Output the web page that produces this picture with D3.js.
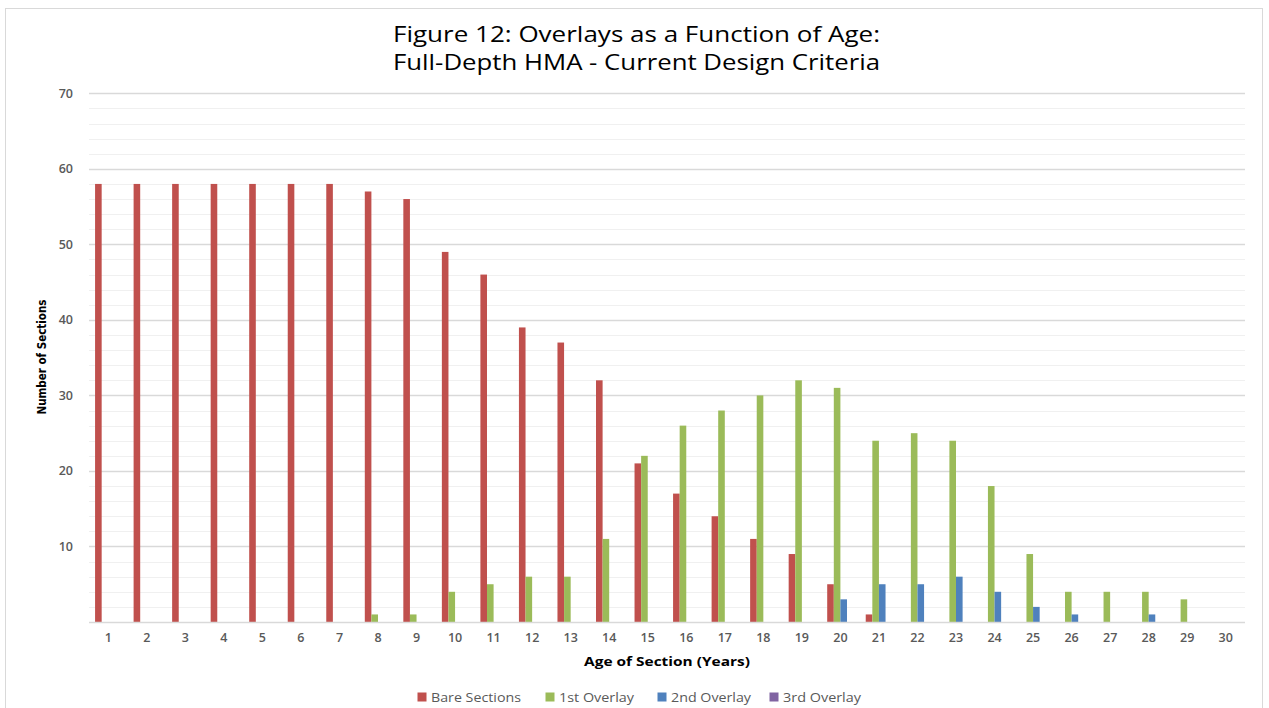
<!DOCTYPE html>
<html><head><meta charset="utf-8">
<script src="https://cdn.jsdelivr.net/npm/d3@7"></script>
<style>body{margin:0;background:#fff;} svg{display:block;}</style>
</head><body>
<svg id="c" width="1269" height="708"></svg>
<script>
const categories = d3.range(1,31).map(String);
const bare    = [58,58,58,58,58,58,58,57,56,49,46,39,37,32,21,17,14,11,9,5,1,0,0,0,0,0,0,0,0,0];
const first   = [0,0,0,0,0,0,0,1,1,4,5,6,6,11,22,26,28,30,32,31,24,25,24,18,9,4,4,4,3,0];
const second  = [0,0,0,0,0,0,0,0,0,0,0,0,0,0,0,0,0,0,0,3,5,5,6,4,2,1,0,1,0,0];
const third   = [0,0,0,0,0,0,0,0,0,0,0,0,0,0,0,0,0,0,0,0,0,0,0,0,0,0,0,0,0,0];
const seriesNames = ["Bare Sections","1st Overlay","2nd Overlay","3rd Overlay"];
const colors = ["#c0504d","#9bbb59","#4f81bd","#8064a2"];
const yTicks = [10,20,30,40,50,60,70];
const titleLines = ["Figure 12: Overlays as a Function of Age:","Full-Depth HMA - Current Design Criteria"];

const series = [bare, first, second, third];
const svg = d3.select("#c");
const font = "'Open Sans', Lato, sans-serif";

// chart border
svg.append("rect").attr("x",5.5).attr("y",8.5).attr("width",1257).attr("height",720)
  .attr("fill","#fff").attr("stroke","#d9d9d9");

const L=89, R=1245, T=93.3, B=622;
const x = d3.scaleBand().domain(categories).range([L,R]).paddingInner(0).paddingOuter(0);
const y = d3.scaleLinear().domain([0,70]).range([B,T]);
const bw = 6.6;
const off = (x.bandwidth() - bw*4)/2;

// gridlines
const g = svg.append("g");
g.selectAll("line.minor").data(d3.range(2,70,2).filter(v=>v%10!==0)).enter().append("line")
  .attr("x1",L).attr("x2",R).attr("y1",d=>Math.round(y(d))+0.5).attr("y2",d=>Math.round(y(d))+0.5)
  .attr("stroke","#f0f0f0").attr("stroke-width",1);
g.selectAll("line.major").data(yTicks).enter().append("line")
  .attr("x1",L).attr("x2",R).attr("y1",d=>Math.round(y(d))+0.5).attr("y2",d=>Math.round(y(d))+0.5)
  .attr("stroke","#d9d9d9").attr("stroke-width",1.3);

// y axis labels
const yAxis = d3.axisLeft(y).tickValues(yTicks).tickSize(0).tickPadding(16);
const ya = svg.append("g").attr("transform",`translate(${L},0)`).call(yAxis);
ya.select(".domain").remove();
ya.selectAll("text").attr("fill","#595959").style("font-family",font).style("font-size","12.5px").style("font-weight","600");

// bars
series.forEach((s,i)=>{
  svg.append("g").selectAll("rect").data(s.map((v,j)=>({c:categories[j],v}))).enter().append("rect")
    .filter(d=>d.v>0)
    .attr("x",d=>x(d.c)+off+i*bw).attr("width",bw)
    .attr("y",d=>y(d.v)).attr("height",d=>y(0)-y(d.v))
    .attr("fill",colors[i]);
});

// x axis line
svg.append("line").attr("x1",L).attr("x2",R).attr("y1",B+0.5).attr("y2",B+0.5).attr("stroke","#d9d9d9").attr("stroke-width",1.3);
const xAxis = d3.axisBottom(x).tickSize(0).tickPadding(11);
const xa = svg.append("g").attr("transform",`translate(0,${B})`).call(xAxis);
xa.select(".domain").remove();
xa.selectAll("text").attr("fill","#595959").style("font-family",font).style("font-size","12.5px").style("font-weight","600");

// title
svg.append("g").selectAll("text").data(titleLines).enter().append("text")
  .attr("x",636.5).attr("y",(d,i)=>42+i*28).attr("text-anchor","middle")
  .attr("textLength",487).attr("lengthAdjust","spacingAndGlyphs")
  .style("font-family",font).style("font-size","21px").attr("fill","#000").text(d=>d);

// axis titles
svg.append("text").attr("x",667).attr("y",665.5).attr("text-anchor","middle")
  .attr("textLength",166).attr("lengthAdjust","spacingAndGlyphs")
  .style("font-family",font).style("font-size","13px").style("font-weight","bold").attr("fill","#000")
  .text("Age of Section (Years)");
svg.append("text").attr("transform","translate(46,357) rotate(-90)").attr("text-anchor","middle")
  .attr("textLength",115).attr("lengthAdjust","spacingAndGlyphs")
  .style("font-family","'Liberation Sans Narrow', 'DejaVu Sans Condensed', sans-serif").style("font-size","13px").style("font-weight","bold").attr("fill","#000")
  .text("Number of Sections");

// legend
const legX = [417.5,545.5,657.5,769.5];
const legW = [90,75,80,78];
const lg = svg.append("g");
seriesNames.forEach((n,i)=>{
  lg.append("rect").attr("x",legX[i]).attr("y",692.5).attr("width",9).attr("height",9).attr("fill",colors[i]);
  lg.append("text").attr("x",legX[i]+13.5).attr("y",701.5).style("font-family",font).style("font-size","12.5px")
    .attr("textLength",legW[i]).attr("lengthAdjust","spacingAndGlyphs")
    .attr("fill","#595959").text(n);
});
</script>
</body></html>
